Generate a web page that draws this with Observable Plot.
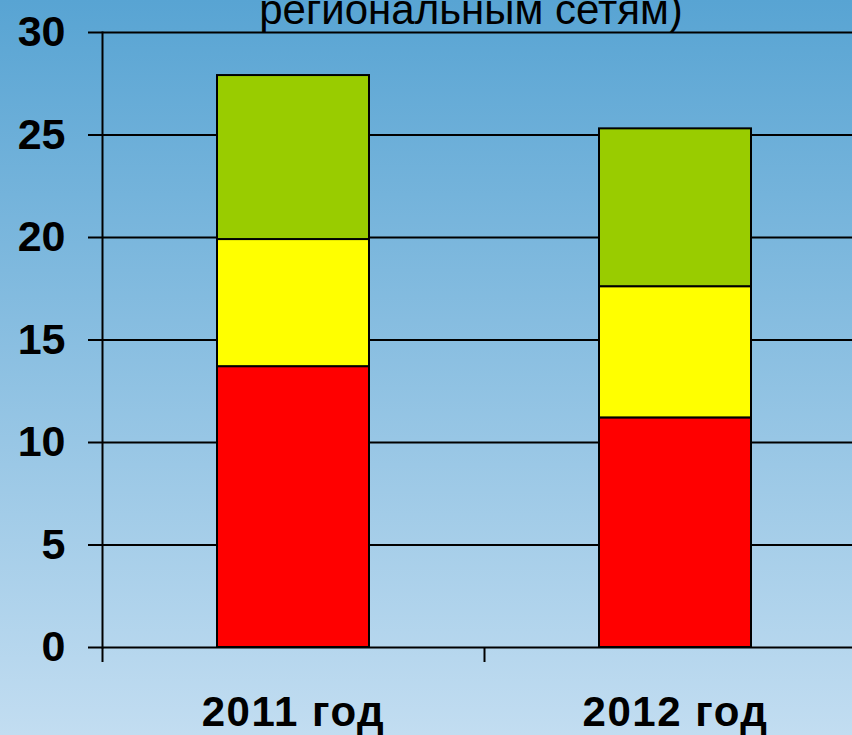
<!DOCTYPE html>
<html><head><meta charset="utf-8">
<script src="https://cdn.jsdelivr.net/npm/d3@7"></script>
<script src="https://cdn.jsdelivr.net/npm/@observablehq/plot@0.6"></script>
<style>
html,body{margin:0;padding:0;width:852px;height:735px;overflow:hidden;}
body{background:linear-gradient(to bottom,#58a4d3 0%,#c2ddf1 100%);position:relative;font-family:"Liberation Sans",Arial,sans-serif;}
#chart svg{display:block;}
#title{position:absolute;left:0;width:942px;text-align:center;top:-11px;font-size:42px;line-height:42px;color:#000;z-index:2;white-space:nowrap;}
</style></head><body>
<div id="chart"></div>
<div id="title">региональным сетям)</div>
<script>
const years = ["2011 год", "2012 год"];
const segments = ["Красный", "Жёлтый", "Зелёный"];
const redValues = [13.7, 11.2];
const yellowValues = [6.2, 6.4];
const greenValues = [8.0, 7.7];
const segmentColors = ["#ff0000", "#ffff00", "#99cc00"];
const yTicks = [0, 5, 10, 15, 20, 25, 30];

const series = [redValues, yellowValues, greenValues];
const table = [];
series.forEach((vals, i) => vals.forEach((v, j) => table.push({year: years[j], segment: segments[i], value: v})));

const W = 866, ML = 102, MR = 0;
const step = (W - ML - MR) / years.length;

const plot = Plot.plot({
  width: W, height: 735,
  marginLeft: ML, marginRight: MR, marginTop: 32, marginBottom: 88,
  style: {background: "transparent", maxWidth: "none", fontFamily: "Liberation Sans, Arial, sans-serif", color: "#000", overflow: "visible"},
  x: {domain: years, paddingInner: 0.602, paddingOuter: 0.301, axis: null},
  y: {domain: [0, 30], axis: null},
  color: {domain: segments, range: segmentColors},
  marks: [
    Plot.ruleY(yTicks, {stroke: "#000", strokeWidth: 2}),
    Plot.axisY({ticks: yTicks, tickSize: 14, tickPadding: 23, fontSize: 43, fontWeight: "bold", stroke: "#000", strokeWidth: 2, fill: "#000", label: null}),
    Plot.frame({anchor: "left", stroke: "#000", strokeWidth: 2}),
    Plot.axisX({tickSize: 15, tickPadding: 0, tickFormat: () => "", dx: -step / 2, stroke: "#000", strokeWidth: 2, label: null}),
    Plot.axisX({tickSize: 0, tickPadding: 49, fontSize: 42, fontWeight: "bold", fill: "#000", label: null, style: {letterSpacing: "1.5px"}}),
    Plot.barY(table, {x: "year", y: "value", fill: "segment", stroke: "#000", strokeWidth: 2})
  ]
});
plot.querySelectorAll("text").forEach(t => { if (/год/.test(t.textContent)) t.style.letterSpacing = "1.5px"; });
document.getElementById("chart").appendChild(plot);
</script>
</body></html>
